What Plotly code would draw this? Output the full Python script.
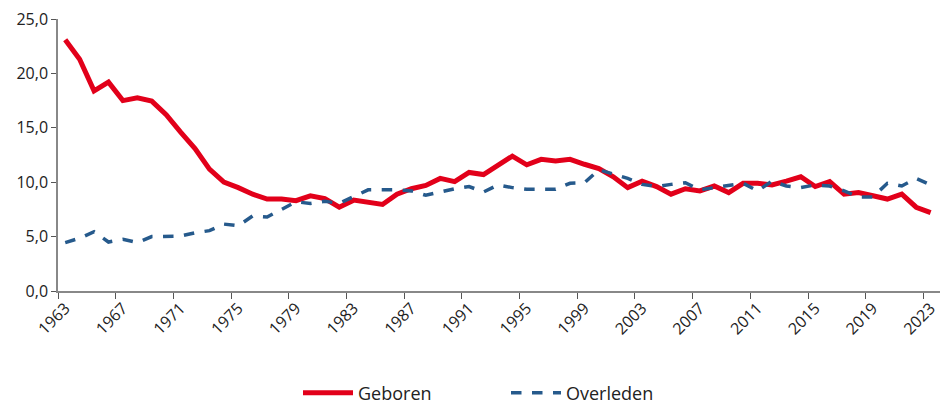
import plotly.graph_objects as go

years = list(range(1963, 2024))
geboren = [23.1, 21.3, 18.4, 19.2, 17.5, 17.75, 17.45, 16.2, 14.6, 13.1,
           11.2, 10.0, 9.5, 8.9, 8.45, 8.45, 8.3, 8.75, 8.5, 7.7,
           8.35, 8.1, 7.95, 8.9, 9.4, 9.7, 10.35, 10.05, 10.9, 10.7,
           11.6, 12.4, 11.6, 12.1, 11.95, 12.1, 11.65, 11.25, 10.5, 9.5,
           10.1, 9.6, 8.9, 9.4, 9.2, 9.65, 9.05, 9.9, 9.9, 9.75,
           10.1, 10.5, 9.6, 10.05, 8.9, 9.05, 8.75, 8.45, 8.9, 7.7, 7.2]
overleden = [4.45, 4.85, 5.45, 4.5, 4.75, 4.45, 5.0, 5.05, 5.05, 5.35,
             5.55, 6.15, 6.0, 6.9, 6.8, 7.5, 8.2, 8.05, 8.25, 8.05,
             8.65, 9.3, 9.3, 9.3, 9.2, 8.8, 9.1, 9.4, 9.6, 9.1,
             9.75, 9.5, 9.35, 9.35, 9.35, 9.9, 9.95, 11.15, 10.75, 10.35,
             9.8, 9.6, 9.8, 9.95, 9.3, 9.5, 9.75, 9.9, 9.2, 10.1,
             9.65, 9.5, 9.75, 9.65, 9.2, 8.65, 8.65, 9.9, 9.65, 10.35, 9.75]
label_years = list(range(1963, 2024, 4))
y_ticks = [0, 5, 10, 15, 20, 25]

fig = go.Figure()
fig.add_trace(go.Scatter(x=years, y=geboren, mode="lines", name="Geboren",
                         line=dict(color="#E2001A", width=5)))
fig.add_trace(go.Scatter(x=years, y=overleden, mode="lines", name="Overleden",
                         line=dict(color="#265A8C", width=3.5, dash="dash")))

fig.update_layout(
    width=940, height=404,
    margin=dict(l=58, r=0, t=19, b=113, autoexpand=False),
    paper_bgcolor="white", plot_bgcolor="white",
    font=dict(family="Open Sans", size=16, color="#222222"),
    separators=",.",
    showlegend=True,
    legend=dict(orientation="h", x=(298 - 58) / 882, xanchor="left",
                y=-0.375, yanchor="middle", font=dict(size=18, color="#222222"),
                itemwidth=50, entrywidth=143, entrywidthmode="pixels"),
)
fig.update_xaxes(
    range=[1962.5, 2023.65], automargin=False,
    tickmode="array", tickvals=label_years, ticktext=[str(y) for y in label_years],
    tickangle=-45, ticks="", showgrid=False, zeroline=False, ticklabeloverflow="allow",
    showline=True, linecolor="#888888", linewidth=1.5,
    minor=dict(tickmode="array", tickvals=[y - 0.5 for y in label_years],
               ticks="outside", ticklen=6, tickcolor="#555555", showgrid=False),
)
fig.update_yaxes(
    range=[0, 25], automargin=False, tickmode="array", tickvals=y_ticks, tickformat=".1f",
    ticks="outside", ticklen=5, tickcolor="#555555", showgrid=False, zeroline=False,
    showline=True, linecolor="#888888", linewidth=1.5,
)
fig.write_html("out.html", config={"displayModeBar": False},
               post_script="document.body.style.margin='0';document.body.style.overflow='hidden';")
